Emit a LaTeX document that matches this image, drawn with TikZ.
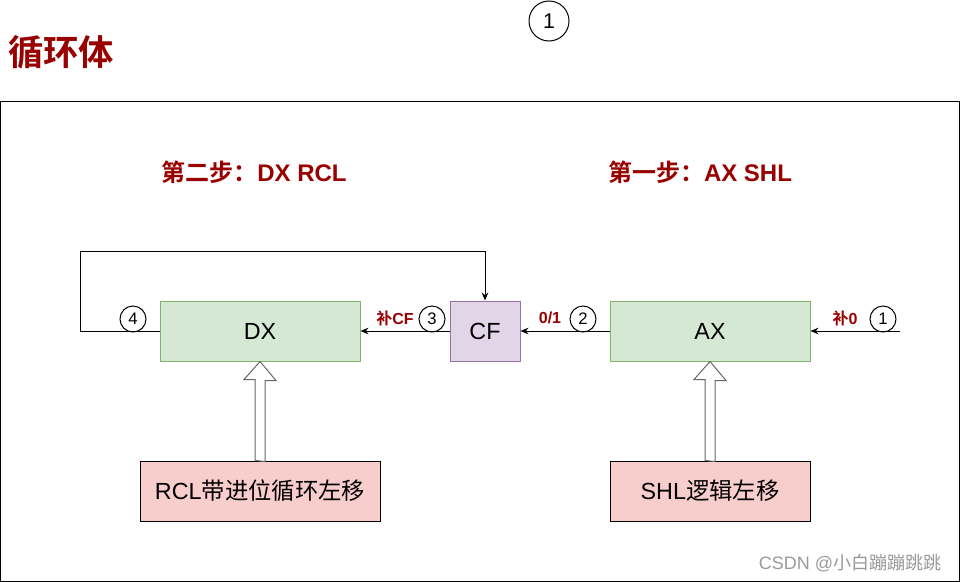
\documentclass[tikz,border=0pt]{standalone}
\usepackage{fontspec}
\setmainfont{Liberation Sans}
\newfontfamily\cjk{Noto Sans CJK SC}[BoldFont={Noto Sans CJK SC Bold}]
\usepackage{xcolor}
\usetikzlibrary{arrows.meta,calc}

\definecolor{darkred}{HTML}{990000}
\definecolor{greenfill}{HTML}{D5E8D4}
\definecolor{greenline}{HTML}{82B366}
\definecolor{purplefill}{HTML}{E1D5E7}
\definecolor{purpleline}{HTML}{9673A6}
\definecolor{pinkfill}{HTML}{F8CECC}

\tikzset{
    regbox/.style={draw=greenline, fill=greenfill, line width=0.75pt, minimum width=150pt, minimum height=45pt, inner sep=0pt, font=\fontsize{17.5}{20}\selectfont},
    flagbox/.style={regbox, draw=purpleline, fill=purplefill, minimum width=52.5pt},
    opbox/.style={regbox, draw=black, fill=pinkfill, minimum width=180pt},
    numcirc/.style={draw, circle, line width=0.75pt, minimum size=19.5pt, inner sep=0pt, font=\fontsize{12.5}{14}\selectfont},
    redlabel/.style={text=darkred, font=\fontsize{12}{14}\selectfont\bfseries},
    steplabel/.style={text=darkred, font=\fontsize{18}{20}\selectfont\bfseries},
    hollow/.style={draw=black!60, fill=white, line width=0.75pt},
    flow/.style={-{Stealth[length=6pt,width=5pt]}, line width=0.75pt}
}

\begin{document}
\begin{tikzpicture}[x=0.75pt, y=-0.75pt]
        \useasboundingbox (0,0) rectangle (961,582);

        % Title and frame
        \node[text=darkred, font=\fontsize{26.5}{28}\selectfont\bfseries\cjk] (title) at (61,52) {循环体};
        \node[numcirc, minimum size=30pt, font=\fontsize{16}{18}\selectfont] (topnum) at (549,21) {1};
        \draw[line width=0.75pt] (0.5,101) rectangle (959,581);

        % Step headings
        \node[steplabel] (step2) at (254,172) {{\cjk 第二步：}DX RCL};
        \node[steplabel] (step1) at (700,172) {{\cjk 第一步：}AX SHL};

        % Registers
        \node[regbox] (dx) at (260,331) {DX};
        \node[flagbox] (cf) at (485,331) {CF};
        \node[regbox] (ax) at (710,331) {AX};

        % Instructions
        \node[opbox] (rcl) at (260,491) {RCL{\cjk 带进位循环左移}};
        \node[opbox, minimum width=150pt] (shl) at (710,491) {SHL{\cjk 逻辑左移}};

        % Hollow arrows
        \draw[hollow] ($(rcl.north)+(-5,0)$) -- ++(0,-81) -- ++(-11,0) -- (dx.south)
            -- ++(16,19) -- ++(-11,0) -- ++(0,81) -- cycle;
        \draw[hollow] ($(shl.north)+(-5,0)$) -- ++(0,-81) -- ++(-11,0) -- (ax.south)
            -- ++(16,19) -- ++(-11,0) -- ++(0,81) -- cycle;

        % Data flow
        \coordinate (in) at (900,331);
        \coordinate (loop) at (80,251);
        \draw[flow] (in) -- (ax.east);
        \draw[flow] (ax.west) -- (cf.east);
        \draw[flow] (cf.west) -- (dx.east);
        \draw[flow] (dx.west) -| (loop) -| (cf.north);

        % Step numbers and labels
        \node[numcirc] (n1) at (883,319) {1};
        \node[redlabel] (lab1) at (845,318) {{\cjk 补}0};
        \node[numcirc] (n2) at (583,319) {2};
        \node[redlabel] (lab2) at (550,318) {0/1};
        \node[numcirc] (n3) at (432,319) {3};
        \node[redlabel] (lab3) at (395,318) {{\cjk 补}CF};
        \node[numcirc] (n4) at (133,319) {4};

        % Watermark
        \node[text=black!40, font=\fontsize{13.5}{16}\selectfont] (mark) at (850,563) {CSDN @{\cjk 小白蹦蹦跳跳}};
    \end{tikzpicture}
\end{document}
